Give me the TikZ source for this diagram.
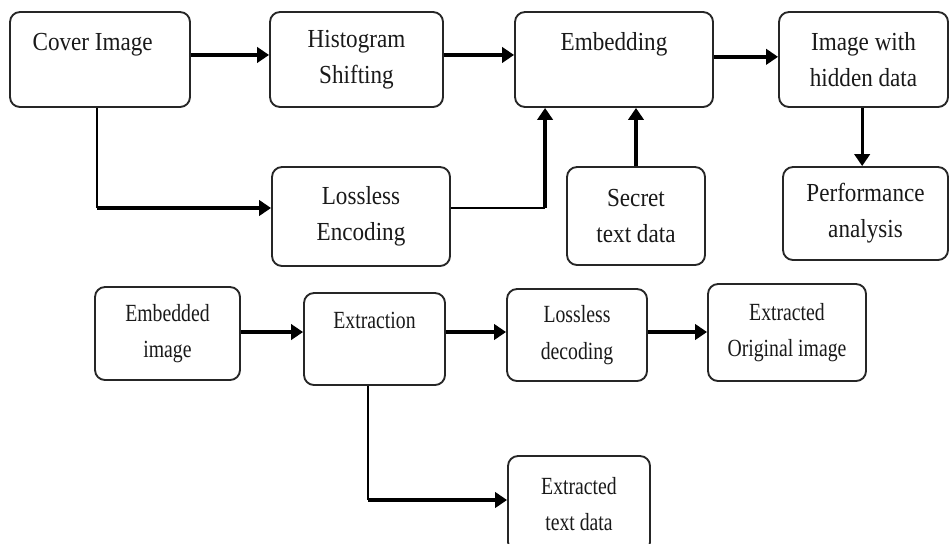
\documentclass[tikz,border=0pt]{standalone}
\usepackage{fontspec}
\setmainfont{Liberation Serif}
\newfontfamily\topfont{Liberation Serif}[FakeStretch=0.89]
\newfontfamily\botfont{Liberation Serif}[FakeStretch=0.8]
\usetikzlibrary{arrows.meta,calc}
\tikzset{
  box/.style={draw=black!85, line width=1.4pt, rounded corners=7.5pt, inner sep=0pt, align=center, text=black!90},
  topbox/.style={box, font=\topfont\fontsize{19.5pt}{27pt}\selectfont},
  botbox/.style={box, font=\botfont\fontsize{18.5pt}{27.5pt}\selectfont},
  thickarr/.style={line width=2.5pt, -{Triangle[length=9pt,width=11.5pt]}},
  thinln/.style={line width=1.5pt},
}
\begin{document}
\begin{tikzpicture}[x=0.75pt,y=-0.75pt]
\useasboundingbox (0,0) rectangle (949,543);
\begin{scope}
\clip (0,0) rectangle (949,543);
% top row
\node[topbox, minimum width=135pt, minimum height=71.25pt] (cover) at (100,59.5) {Cover Image\hbox to 11pt{}\\\mbox{}};
\node[topbox, minimum width=129.75pt, minimum height=71.25pt] (hist) at (356.5,59.5) {Histogram\\Shifting};
\node[topbox, minimum width=148.5pt, minimum height=71.25pt] (embed) at (614,59.5) {Embedding\\\mbox{}};
\node[topbox, minimum width=126.75pt, minimum height=71.25pt] (imgh) at (863.5,59.5) {Image with\\hidden data};
\node[topbox, minimum width=133.5pt, minimum height=74.25pt] (lossenc) at (361,216.5) {Lossless\\Encoding};
\node[topbox, minimum width=103.5pt, minimum height=73.5pt] (secret) at (636,216) {Secret\\text data};
\node[topbox, minimum width=123.75pt, minimum height=69.75pt] (perf) at (865.5,213.5) {Performance\\analysis};
% bottom row
\node[botbox, minimum width=108.75pt, minimum height=69.75pt] (embimg) at (167.5,333.5) {Embedded\\image};
\node[botbox, minimum width=105.75pt, minimum height=69pt] (extr) at (374.5,339) {Extraction\\\mbox{}};
\node[botbox, minimum width=105pt, minimum height=69pt] (lossdec) at (577,335) {Lossless\\decoding};
\node[botbox, minimum width=118.5pt, minimum height=72.75pt] (exorig) at (787,332.5) {Extracted\\Original image};
\node[botbox, minimum width=106.5pt, minimum height=72pt] (extxt) at (579,504) {Extracted\\text data};
\end{scope}
% top connectors
\draw[thickarr] ([yshift=3.4pt]cover.east) -- ([yshift=3.4pt]hist.west);
\draw[thickarr] ([yshift=3.4pt]hist.east) -- ([yshift=3.4pt]embed.west);
\draw[thickarr] ([yshift=2pt]embed.east) -- ([yshift=2pt]imgh.west);
\draw[thickarr] ([xshift=-1pt]imgh.south) -- ([xshift=-1pt]imgh.south |- perf.north);
\coordinate (c1) at ([xshift=-2.25pt]cover.south |- 0,208);
\draw[thinln] ([xshift=-2.25pt]cover.south) -- (c1);
\draw[thickarr] (c1) -- (c1 -| lossenc.west);
\coordinate (c2) at ([xshift=23.25pt]embed.south west |- 0,208);
\draw[thinln] (c2 -| lossenc.east) -- (c2);
\draw[thickarr] (c2) -- (c2 |- embed.south);
\draw[thickarr] (secret.north) -- (secret.north |- embed.south);
% bottom connectors
\draw[thickarr] ([yshift=1.1pt]embimg.east) -- ([yshift=1.1pt]embimg.east -| extr.west);
\draw[thickarr] ([yshift=5.25pt]extr.east) -- ([yshift=5.25pt]extr.east -| lossdec.west);
\draw[thickarr] ([yshift=2.25pt]lossdec.east) -- ([yshift=2.25pt]lossdec.east -| exorig.west);
\coordinate (c3) at ([xshift=-4.9pt]extr.south |- 0,500);
\draw[thinln] ([xshift=-4.9pt]extr.south) -- (c3);
\draw[thickarr] (c3) -- (c3 -| extxt.west);
\end{tikzpicture}
\end{document}
